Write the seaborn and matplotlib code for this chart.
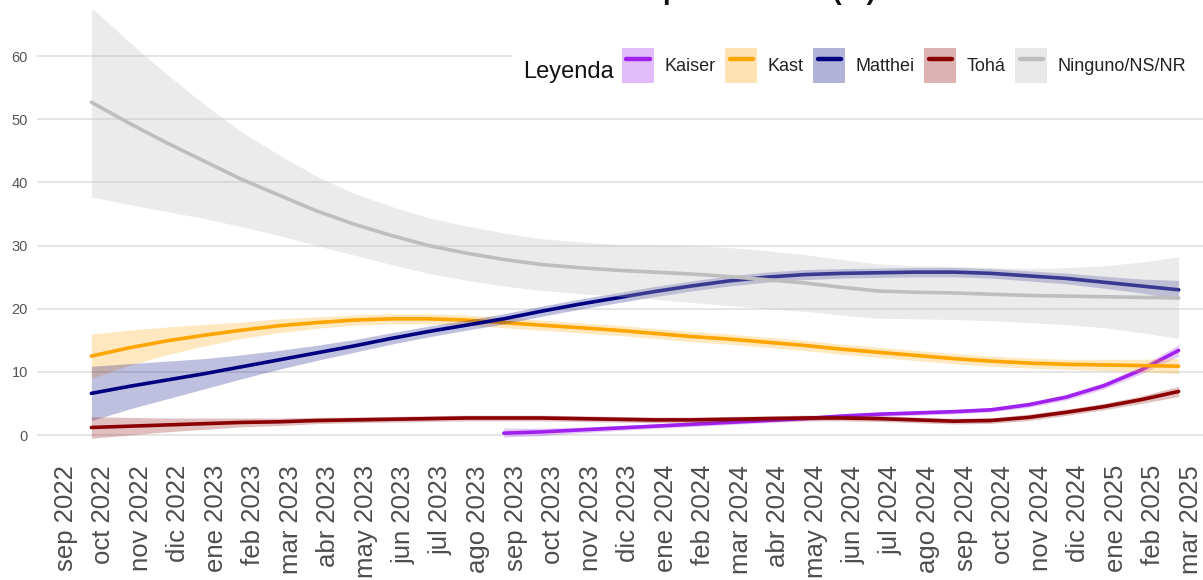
import numpy as np
import pandas as pd
import matplotlib
matplotlib.use("Agg")
import matplotlib.pyplot as plt
from matplotlib import font_manager as fm
from matplotlib.patches import Patch, Rectangle
from matplotlib.lines import Line2D
from matplotlib.legend_handler import HandlerTuple, HandlerLine2D
import seaborn as sns

# ---------------- data ----------------
month_labels = ["sep 2022", "oct 2022", "nov 2022", "dic 2022", "ene 2023", "feb 2023",
                "mar 2023", "abr 2023", "may 2023", "jun 2023", "jul 2023", "ago 2023",
                "sep 2023", "oct 2023", "nov 2023", "dic 2023", "ene 2024", "feb 2024",
                "mar 2024", "abr 2024", "may 2024", "jun 2024", "jul 2024", "ago 2024",
                "sep 2024", "oct 2024", "nov 2024", "dic 2024", "ene 2025", "feb 2025",
                "mar 2025"]

# month index (0 = sep 2022); main series run oct 2022 .. mar 2025
months_all = list(range(1, 31))
months_kaiser = list(range(12, 31))

ninguno = [52.7, 49.4, 46.3, 43.4, 40.5, 38.0, 35.5, 33.4, 31.6, 30.0,
           28.8, 27.8, 27.0, 26.5, 26.1, 25.8, 25.5, 25.1, 24.6, 24.1,
           23.4, 22.8, 22.6, 22.5, 22.3, 22.1, 22.0, 21.9, 21.8, 21.7]
ninguno_lo = [37.7, 36.5, 35.4, 34.3, 33.0, 31.6, 30.0, 28.5, 27.0, 25.6,
              24.5, 23.6, 22.9, 22.4, 22.0, 21.5, 21.0, 20.5, 20.0, 19.6,
              19.0, 18.5, 18.4, 18.3, 18.1, 17.8, 17.5, 17.0, 16.2, 15.3]
ninguno_hi = [67.7, 62.3, 57.2, 52.4, 48.0, 44.4, 41.0, 38.3, 36.2, 34.4,
              33.1, 32.0, 31.1, 30.6, 30.2, 30.1, 30.0, 29.7, 29.2, 28.6,
              27.8, 27.1, 26.8, 26.7, 26.5, 26.4, 26.5, 26.8, 27.4, 28.2]

matthei = [6.6, 7.7, 8.7, 9.7, 10.8, 11.9, 13.0, 14.1, 15.3, 16.4,
           17.4, 18.4, 19.6, 20.7, 21.7, 22.7, 23.6, 24.4, 25.0, 25.4,
           25.6, 25.7, 25.8, 25.8, 25.6, 25.2, 24.8, 24.2, 23.6, 23.0]
matthei_lo = [2.3, 4.1, 5.7, 7.3, 8.9, 10.4, 11.8, 13.1, 14.4, 15.55,
              16.6, 17.6, 18.8, 19.9, 20.9, 21.9, 22.8, 23.6, 24.2, 24.6,
              24.85, 24.95, 25.05, 25.05, 24.85, 24.4, 23.95, 23.25, 22.5, 21.5]
matthei_hi = [10.9, 11.3, 11.7, 12.1, 12.7, 13.4, 14.2, 15.1, 16.2, 17.25,
              18.2, 19.2, 20.4, 21.5, 22.5, 23.5, 24.4, 25.2, 25.8, 26.2,
              26.35, 26.45, 26.55, 26.55, 26.35, 26.0, 25.65, 25.15, 24.7, 24.5]

kast = [12.5, 13.8, 14.9, 15.8, 16.6, 17.3, 17.8, 18.2, 18.4, 18.4,
        18.2, 17.8, 17.4, 17.0, 16.6, 16.1, 15.6, 15.2, 14.7, 14.2,
        13.6, 13.1, 12.6, 12.1, 11.7, 11.4, 11.2, 11.1, 11.0, 10.9]
kast_lo = [9.0, 11.0, 12.7, 14.1, 15.3, 16.2, 16.9, 17.4, 17.6, 17.6,
           17.4, 17.0, 16.6, 16.2, 15.8, 15.3, 14.8, 14.4, 13.9, 13.4,
           12.8, 12.3, 11.8, 11.3, 10.9, 10.6, 10.4, 10.2, 10.0, 9.7]
kast_hi = [16.0, 16.6, 17.1, 17.5, 17.9, 18.4, 18.7, 19.0, 19.2, 19.2,
           19.0, 18.6, 18.2, 17.8, 17.4, 16.9, 16.4, 16.0, 15.5, 15.0,
           14.4, 13.9, 13.4, 12.9, 12.5, 12.2, 12.0, 12.0, 12.0, 12.1]

toha = [1.2, 1.4, 1.6, 1.8, 2.0, 2.1, 2.3, 2.4, 2.5, 2.6,
        2.7, 2.7, 2.7, 2.6, 2.5, 2.4, 2.4, 2.5, 2.6, 2.7,
        2.7, 2.6, 2.4, 2.2, 2.3, 2.8, 3.6, 4.5, 5.6, 6.9]
toha_lo = [-0.5, 0.0, 0.5, 0.9, 1.3, 1.5, 1.8, 1.95, 2.05, 2.15,
           2.25, 2.25, 2.25, 2.15, 2.05, 1.95, 1.95, 2.05, 2.15, 2.25,
           2.25, 2.15, 1.95, 1.75, 1.85, 2.3, 3.1, 4.0, 5.0, 6.1]
toha_hi = [2.9, 2.8, 2.7, 2.7, 2.7, 2.7, 2.8, 2.85, 2.95, 3.05,
           3.15, 3.15, 3.15, 3.05, 2.95, 2.85, 2.85, 2.95, 3.05, 3.15,
           3.15, 3.05, 2.85, 2.65, 2.75, 3.3, 4.1, 5.0, 6.2, 7.7]

kaiser = [0.3, 0.5, 0.8, 1.1, 1.4, 1.7, 2.0, 2.3, 2.6, 3.0,
          3.3, 3.5, 3.7, 4.0, 4.8, 6.0, 7.8, 10.3, 13.4]
kaiser_lo = [-0.3, -0.1, 0.35, 0.7, 1.05, 1.35, 1.65, 1.95, 2.25, 2.65,
             2.95, 3.15, 3.35, 3.65, 4.4, 5.55, 7.3, 9.7, 12.5]
kaiser_hi = [1.1, 1.1, 1.25, 1.5, 1.75, 2.05, 2.35, 2.65, 2.95, 3.35,
             3.65, 3.85, 4.05, 4.35, 5.2, 6.45, 8.3, 10.9, 14.3]

candidates = ["Kaiser", "Kast", "Matthei", "Tohá", "Ninguno/NS/NR"]
colors = {"Kaiser": "#a020f0", "Kast": "#ffa500", "Matthei": "#000080",
          "Tohá": "#8b0000", "Ninguno/NS/NR": "#bebebe"}
band_alpha = {"Kaiser": 0.25, "Kast": 0.25, "Matthei": 0.25,
              "Tohá": 0.25, "Ninguno/NS/NR": 0.3}

series = {
    "Kaiser": (months_kaiser, kaiser, kaiser_lo, kaiser_hi),
    "Kast": (months_all, kast, kast_lo, kast_hi),
    "Matthei": (months_all, matthei, matthei_lo, matthei_hi),
    "Tohá": (months_all, toha, toha_lo, toha_hi),
    "Ninguno/NS/NR": (months_all, ninguno, ninguno_lo, ninguno_hi),
}

frames = []
for name, (mx, val, lo, hi) in series.items():
    frames.append(pd.DataFrame({"mes": mx, "valor": val, "lo": lo, "hi": hi,
                                "candidato": name}))
df = pd.concat(frames, ignore_index=True)

# ---------------- style ----------------
sns.set_style("white")
plt.rcParams["font.family"] = ["Liberation Sans", "DejaVu Sans"]

names = {f.name for f in fm.fontManager.ttflist}
if "Liberation Sans Narrow" in names:
    narrow = "Liberation Sans Narrow"
    leg_fs, title_fs = 17, 21
else:
    narrow = "Liberation Sans"
    leg_fs, title_fs = 13, 17

W, H = 1203, 580
fig = plt.figure(figsize=(W / 100, H / 100), dpi=100)
ax = fig.add_axes([37 / W, (H - 454) / H, (1233 - 37) / W, (454 - 10) / H])

for i, name in enumerate(candidates):
    sub = df[df["candidato"] == name]
    z = 2 + i
    ax.fill_between(sub["mes"], sub["lo"], sub["hi"], color=colors[name],
                    alpha=band_alpha[name], linewidth=0, zorder=z)
    sns.lineplot(data=sub, x="mes", y="valor", color=colors[name], linewidth=2.6,
                 estimator=None, errorbar=None, legend=False, ax=ax, zorder=z + 0.5)

ax.set_xlim(-0.45, 31.45)
ax.set_ylim(-3, 67.3)
ax.set_xticks(range(len(month_labels)))
ax.set_xticklabels(month_labels, rotation=90, ha="left", va="top",
                   fontsize=18.5, color="#4d4d4d")
ax.set_yticks(range(0, 61, 10))
ax.set_yticklabels([str(v) for v in range(0, 61, 10)], fontsize=10.5, color="#555555")
ax.tick_params(axis="x", length=0, pad=8)
ax.tick_params(axis="y", length=0, pad=6.5)
ax.set_xlabel("")
ax.set_ylabel("")
for s in ax.spines.values():
    s.set_visible(False)
ax.grid(axis="y", color="#dedede", linewidth=1.1)
ax.grid(axis="x", visible=False)
ax.set_axisbelow(True)


class ShortLine(HandlerLine2D):
    def create_artists(self, legend, orig_handle, xdescent, ydescent, width,
                       height, fontsize, trans):
        inset = width * 0.14
        return super().create_artists(legend, orig_handle, xdescent - inset, ydescent,
                                      width - 2 * inset, height, fontsize, trans)


# legend background and legend
fig.add_artist(Rectangle((512 / W, 1 - 100 / H), (W - 512) / W, 70 / H,
                         transform=fig.transFigure, facecolor="white",
                         edgecolor="none", zorder=1))
fig.text(523 / W, 1 - 78 / H, "Leyenda", ha="left", va="baseline",
         fontsize=title_fs, family=[narrow, "DejaVu Sans"], color="#111111", zorder=3)

fs_px = leg_fs * 100 / 72
handles = [(Patch(facecolor=colors[n], alpha=band_alpha[n] + 0.05, edgecolor="none"),
            Line2D([], [], color=colors[n], linewidth=3.2)) for n in candidates]
leg = fig.legend(handles, candidates, loc="center left",
                 bbox_to_anchor=(622 / W, 1 - 65.5 / H), ncol=5, frameon=False,
                 borderpad=0, borderaxespad=0,
                 handlelength=32 / fs_px, handleheight=47 / fs_px,
                 handletextpad=10 / fs_px, columnspacing=10 / fs_px,
                 handler_map={tuple: HandlerTuple(ndivide=1), Line2D: ShortLine()},
                 prop={"family": [narrow, "DejaVu Sans"], "size": leg_fs})
for t in leg.get_texts():
    t.set_color("#222222")

# title: sits above the visible area, only its descenders show (as in the reference)
fig.text(650 / W, 1 + 1 / H, "Intención de voto presidencial (%)", ha="center",
         va="baseline", fontsize=20, fontweight="bold", color="#111111")

fig.savefig("out.png", dpi=100)
